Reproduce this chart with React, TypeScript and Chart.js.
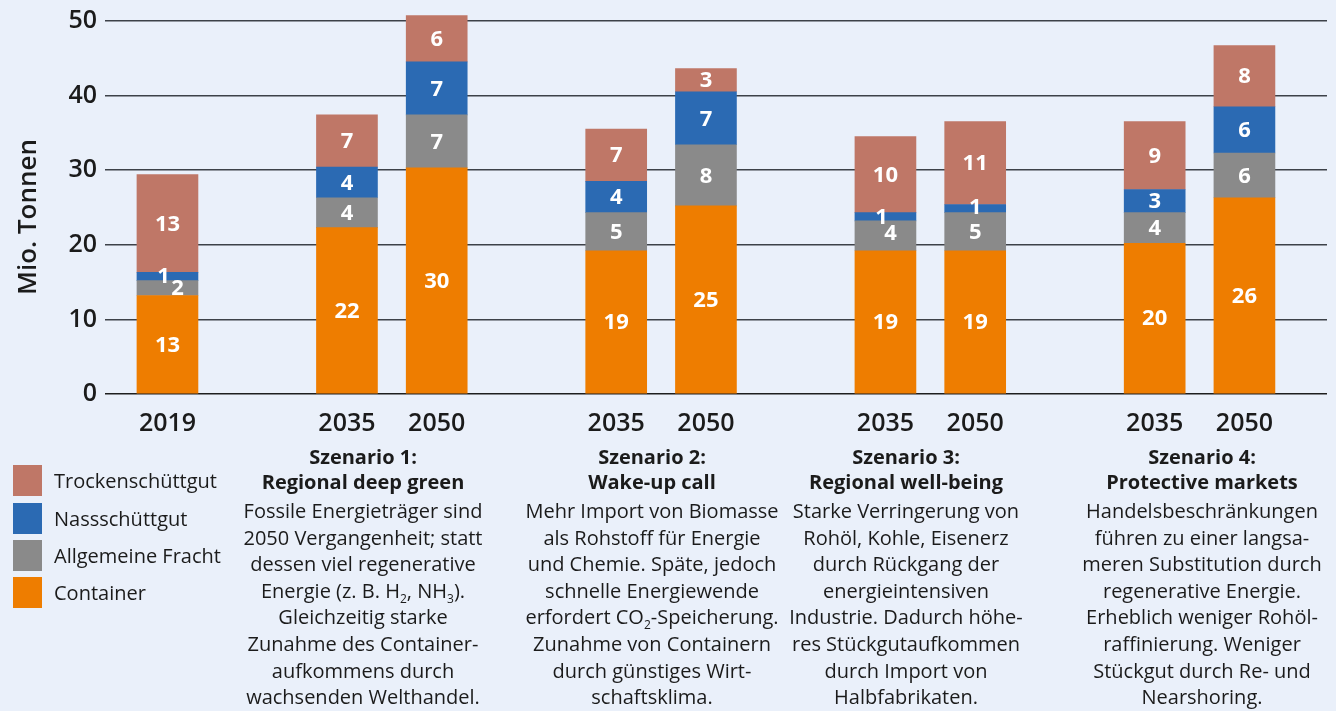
import React, { useEffect, useRef } from 'react';
import { Chart, registerables } from 'chart.js';

Chart.register(...registerables);

// ---------- data ----------
const barLabels = ['2019', '2035', '2050', '2035', '2050', '2035', '2050', '2035', '2050'];
const barSlots = [0, 2, 3, 5, 6, 8, 9, 11, 12];

const containerValues = [13.2, 22.3, 30.3, 19.2, 25.2, 19.2, 19.2, 20.2, 26.3];
const allgemeineValues = [2.0, 4.0, 7.1, 5.1, 8.2, 4.0, 5.1, 4.1, 6.0];
const nassValues = [1.1, 4.1, 7.1, 4.2, 7.1, 1.1, 1.1, 3.1, 6.2];
const trockenValues = [13.1, 7.0, 6.2, 7.0, 3.1, 10.2, 11.1, 9.1, 8.2];

const seriesNames = ['Container', 'Allgemeine Fracht', 'Nassschüttgut', 'Trockenschüttgut'];
const seriesColors = ['#EE7D00', '#8A8A8A', '#2B6AB3', '#BF7767'];

const yTickValues = [0, 10, 20, 30, 40, 50];
const yAxisTitle = 'Mio. Tonnen';

const scenarioTitles = [
  ['Szenario 1:', 'Regional deep green'],
  ['Szenario 2:', 'Wake-up call'],
  ['Szenario 3:', 'Regional well-being'],
  ['Szenario 4:', 'Protective markets'],
];
const scenarioTexts = [
  [
    'Fossile Energieträger sind',
    '2050 Vergangenheit; statt',
    'dessen viel regenerative',
    'Energie (z. B. H_2, NH_3).',
    'Gleichzeitig starke',
    'Zunahme des Container-',
    'aufkommens durch',
    'wachsenden Welthandel.',
  ],
  [
    'Mehr Import von Biomasse',
    'als Rohstoff für Energie',
    'und Chemie. Späte, jedoch',
    'schnelle Energiewende',
    'erfordert CO_2-Speicherung.',
    'Zunahme von Containern',
    'durch günstiges Wirt-',
    'schaftsklima.',
  ],
  [
    'Starke Verringerung von',
    'Rohöl, Kohle, Eisenerz',
    'durch Rückgang der',
    'energieintensiven',
    'Industrie. Dadurch höhe-',
    'res Stückgutaufkommen',
    'durch Import von',
    'Halbfabrikaten.',
  ],
  [
    'Handelsbeschränkungen',
    'führen zu einer langsa-',
    'meren Substitution durch',
    'regenerative Energie.',
    'Erheblich weniger Rohöl-',
    'raffinierung. Weniger',
    'Stückgut durch Re- und',
    'Nearshoring.',
  ],
];

// ---------- layout constants ----------
const W = 1336;
const H = 711;
const AXIS_BOTTOM = 394;
const FONT = "'Open Sans', 'Noto Sans', sans-serif";
const TEXT_COLOR = '#1b1b1b';
const BG = '#EAF0FA';
const scenarioCenters = [363, 652, 906, 1202];

// small manual label nudges for tiny segments  key = datasetIndex:barIndex
const labelNudges: Record<string, [number, number]> = {
  '2:0': [-4, -1],
  '1:0': [10, 0],
  '2:5': [-4, 0],
  '1:5': [5, -3],
  '2:6': [0, -2],
};

function renderLine(line: string) {
  const parts = line.split(/_(\d)/);
  return parts.map((p, i) =>
    i % 2 === 1 ? (
      <sub key={i} style={{ fontSize: 12, verticalAlign: 'baseline', position: 'relative', top: 5, lineHeight: 0 }}>
        {p}
      </sub>
    ) : (
      <React.Fragment key={i}>{p}</React.Fragment>
    )
  );
}

export default function App() {
  const canvasRef = useRef<HTMLCanvasElement>(null);

  useEffect(() => {
    let chart: Chart | null = null;
    let cancelled = false;

    const build = () => {
      if (cancelled || !canvasRef.current) return;
      const series = [containerValues, allgemeineValues, nassValues, trockenValues];
      const datasets = series.map((vals, i) => ({
        label: seriesNames[i],
        data: vals.map((v, j) => ({ x: barSlots[j], y: v })),
        backgroundColor: seriesColors[i],
        borderWidth: 0,
        barThickness: 61,
      }));

      const valueLabels = {
        id: 'valueLabels',
        afterDatasetsDraw(c: any) {
          const ctx = c.ctx;
          ctx.save();
          ctx.fillStyle = '#ffffff';
          ctx.font = `700 22px ${FONT}`;
          ctx.textAlign = 'center';
          ctx.textBaseline = 'middle';
          c.data.datasets.forEach((ds: any, di: number) => {
            const meta = c.getDatasetMeta(di);
            meta.data.forEach((bar: any, bi: number) => {
              const v = ds.data[bi].y;
              const nudge = labelNudges[`${di}:${bi}`] || [0, 0];
              const cy = (bar.y + bar.base) / 2;
              ctx.fillText(String(Math.round(v)), bar.x + nudge[0], cy + nudge[1] + 1);
            });
          });
          ctx.restore();
        },
      };

      const axisTitle = {
        id: 'axisTitle',
        afterDraw(c: any) {
          const ctx = c.ctx;
          ctx.save();
          ctx.translate(29, 217);
          ctx.rotate(-Math.PI / 2);
          ctx.fillStyle = TEXT_COLOR;
          ctx.font = `600 26px ${FONT}`;
          ctx.textAlign = 'center';
          ctx.textBaseline = 'middle';
          ctx.fillText(yAxisTitle, 0, 0);
          ctx.restore();
        },
      };

      chart = new Chart(canvasRef.current, {
        type: 'bar',
        data: { datasets } as any,
        options: {
          animation: false,
          responsive: false,
          maintainAspectRatio: false,
          layout: { padding: { left: 0, right: 9, top: 0, bottom: 0 } },
          plugins: {
            legend: { display: false },
            tooltip: { enabled: false },
          },
          scales: {
            x: {
              type: 'linear',
              stacked: true,
              offset: false,
              min: -0.696,
              max: 12.92,
              grid: { display: false, drawTicks: false, offset: false },
              border: { display: false },
              afterBuildTicks: (s: any) => {
                s.ticks = barSlots.map((v) => ({ value: v }));
              },
              afterFit: (s: any) => {
                s.height = H - AXIS_BOTTOM;
                s.paddingLeft = 0;
                s.paddingRight = 0;
                s.paddingTop = 0;
                s.paddingBottom = 0;
              },
              ticks: {
                autoSkip: false,
                maxRotation: 0,
                padding: 15,
                color: TEXT_COLOR,
                font: { family: FONT, size: 25, weight: '600' as any },
                callback: (v: any) => {
                  const i = barSlots.indexOf(Number(v));
                  return i >= 0 ? barLabels[i] : '';
                },
              },
            },
            y: {
              stacked: true,
              min: 0,
              max: 52.8,
              afterBuildTicks: (s: any) => {
                s.ticks = yTickValues.map((v) => ({ value: v }));
              },
              afterFit: (s: any) => {
                s.width = 105;
                s.paddingTop = 0;
                s.paddingBottom = 0;
              },
              grid: {
                drawTicks: false,
                lineWidth: 1.6,
                color: (ctx: any) => (ctx.tick && ctx.tick.value === 0 ? '#1e1e1e' : '#3d4148'),
              },
              border: { display: false },
              ticks: {
                padding: 8,
                color: TEXT_COLOR,
                font: { family: FONT, size: 25, weight: '600' as any },
              },
            },
          },
        } as any,
        plugins: [valueLabels, axisTitle],
      });
    };

    const fontsReady = (document as any).fonts
      ? Promise.all([
          (document as any).fonts.load(`600 25px 'Open Sans'`),
          (document as any).fonts.load(`700 22px 'Open Sans'`),
        ]).catch(() => null)
      : Promise.resolve(null);
    fontsReady.then(build);

    return () => {
      cancelled = true;
      if (chart) chart.destroy();
    };
  }, []);

  const legendOrder = [3, 2, 1, 0];
  const legendTops = [465, 503, 540, 577];

  return (
    <div
      style={{
        position: 'fixed',
        left: 0,
        top: 0,
        width: W,
        height: H,
        background: BG,
        overflow: 'hidden',
        fontFamily: FONT,
        color: TEXT_COLOR,
      }}
    >
      <canvas ref={canvasRef} width={W} height={H} style={{ position: 'absolute', left: 0, top: 0, width: W, height: H }} />

      {legendOrder.map((si, k) => (
        <div key={si} style={{ position: 'absolute', left: 13, top: legendTops[k], height: 31, display: 'flex', alignItems: 'center' }}>
          <div style={{ width: 29, height: 31, background: seriesColors[si] }} />
          <div style={{ marginLeft: 12, fontSize: 20, lineHeight: '31px', whiteSpace: 'nowrap' }}>{seriesNames[si]}</div>
        </div>
      ))}

      {scenarioTitles.map((title, si) => (
        <div
          key={si}
          style={{
            position: 'absolute',
            left: scenarioCenters[si] - 160,
            width: 320,
            top: 444,
            textAlign: 'center',
            fontSize: 20,
          }}
        >
          {title.map((t, i) => (
            <div key={i} style={{ fontWeight: 700, lineHeight: '25px', whiteSpace: 'nowrap' }}>
              {t}
            </div>
          ))}
          <div style={{ marginTop: 4 }}>
            {scenarioTexts[si].map((line, i) => (
              <div key={i} style={{ lineHeight: '26.6px', whiteSpace: 'nowrap' }}>
                {renderLine(line)}
              </div>
            ))}
          </div>
        </div>
      ))}
    </div>
  );
}
